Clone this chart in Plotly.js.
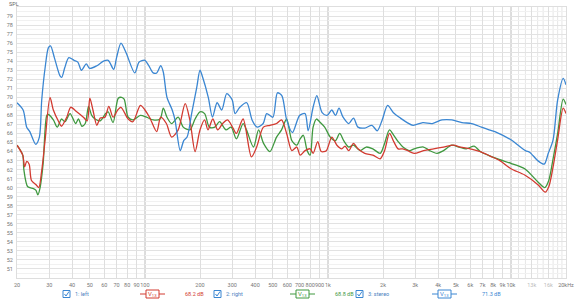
<!DOCTYPE html>
<html><head><meta charset="utf-8">
<script src="https://cdn.plot.ly/plotly-3.0.1.min.js"></script>
<style>html,body{margin:0;padding:0;background:#fff;}#chart{width:576px;height:300px;}</style>
</head><body><div id="chart"></div>
<script>
// ---- data ----
const freqLeft = [20,21.5,22,22.6,23.3,24,25.5,26.3,27.3,28.5,30.3,31.6,33.8,35,37.4,39.3,42.4,46.1,48.4,50,52,54.6,57,60.5,63.5,67,71,74,81,86,94.5,100,106,116,122,131,140,152,166,176,188,200,212,221,235,250,266,283,303,316,344,382,408,444,482,524,558,595,635,676,705,750,800,830,880,920,980,1050,1120,1190,1240,1300,1380,1460,1590,1760,1930,2040,2170,2290,2420,2570,2730,2960,3330,3780,4280,4850,5300,6000,6800,7700,8700,10000,11900,14100,15400,16100,17000,18000,19300,20000];
const splLeft = [64.7,63.6,62.3,62.9,62.6,60.8,60.3,60.0,61.9,65.3,70.0,68.6,67.3,66.8,67.8,68.9,68.4,67.8,67.4,69.9,68.6,66.9,67.7,67.8,69.0,67.8,68.6,68.9,67.6,67.3,69.1,68.6,67.8,66.2,67.8,67.1,65.6,66.4,69.3,67.5,64.0,66.4,67.5,66.4,67.6,66.4,67.1,67.5,66.6,66.0,67.6,63.4,64.5,66.7,66.9,67.1,67.5,66.0,64.1,64.5,63.6,64.1,64.3,63.8,65.1,64.0,64.1,65.6,64.7,64.3,64.6,64.1,64.9,64.3,63.8,63.6,63.2,64.1,66.0,65.1,64.3,64.3,64.1,63.8,64.1,64.3,64.5,64.7,64.5,64.3,64.0,63.5,63.0,62.1,61.4,60.3,59.5,60.1,62.3,65.3,68.8,68.2];

const freqRight = [20,21.5,21.8,22.9,24.6,25.4,26,26.8,27.8,29.1,29.7,31.6,33.2,35,36.6,39,41.8,43.3,45.3,47.2,49.2,51.2,53.4,57,61,63,67,71.5,74.5,77,81,86,94.5,102,111,121,126,132,140,152,162,176,188,200,212,225,241,256,277,296,316,344,359,392,418,445,482,524,558,595,635,676,705,734,770,800,830,866,900,960,1030,1100,1160,1220,1300,1380,1500,1620,1760,1930,2040,2170,2290,2420,2570,2800,2960,3330,3600,3950,4280,4750,5200,5700,6300,6800,7700,8700,10000,11900,14100,15300,16100,17000,18000,19300,20000];
const splRight = [64.7,63.6,62.0,60.1,59.9,59.7,59.2,60.1,62.7,68.0,68.1,67.5,66.7,67.6,67.3,68.2,67.1,67.6,66.8,67.1,69.0,68.0,67.6,67.4,68.2,68.4,67.2,69.9,70.0,69.8,67.8,67.5,68.0,67.8,67.5,67.6,68.8,67.8,67.1,67.8,66.7,66.4,67.6,68.4,68.2,66.7,66.7,67.3,66.4,66.7,65.4,67.1,66.4,64.5,66.4,64.9,64.0,65.6,66.4,67.6,65.2,64.7,65.4,65.8,64.1,63.6,66.7,67.6,67.3,66.7,65.6,65.2,66.0,65.2,64.5,64.7,64.1,64.5,64.3,63.8,64.9,66.4,65.8,65.1,64.5,64.1,64.3,64.5,64.1,63.8,64.1,64.7,64.5,64.3,64.6,64.0,63.5,63.1,62.7,62.1,60.6,60.0,60.8,63.2,66.0,69.8,69.2];

const freqStereo = [20,21.6,22.6,23.5,25.3,26.5,27.3,28.5,29.7,30.5,32,34.3,35.1,36.5,38.4,41,43,45,47.8,49.9,54.7,59.4,63,67.5,70,74,79,88,93,100,105,111,116,122,126,132,141,146,156,163,170,180,192,200,207,222,234,248,263,280,300,311,330,360,385,410,443,463,500,530,560,595,640,700,750,780,830,870,930,990,1050,1100,1150,1210,1300,1380,1460,1590,1740,1860,1980,2120,2280,2490,2710,2920,3300,3720,4200,4760,5400,6100,6900,7600,8400,10000,12000,12700,14000,15200,16000,17000,18000,19300,20000];
const splStereo = [69.4,68.6,66.7,66.2,64.8,65.6,69.7,73.3,75.5,75.7,74.4,72.4,72.2,73.3,74.4,74.1,73.9,73.0,73.7,73.2,73.5,74.0,74.1,73.1,74.4,76.0,74.9,72.7,73.9,74.1,73.5,72.7,72.7,73.5,72.8,70.0,68.6,67.5,64.1,65.2,65.6,68.2,71.1,73.0,72.2,70.0,67.8,69.4,68.6,70.4,69.7,68.2,68.9,69.4,67.5,66.7,67.1,68.2,67.8,70.5,70.2,67.5,66.1,68.0,68.2,66.3,68.9,70.2,68.3,68.0,68.6,68.0,68.8,67.8,67.1,67.7,66.7,66.6,66.9,66.3,67.5,69.1,68.3,67.7,67.2,66.9,67.2,67.1,67.5,67.5,67.2,67.1,66.7,66.4,66.1,65.3,64.1,63.9,63.0,62.6,63.8,65.3,69.7,72.1,71.4];

const xTickVals = [20,30,40,50,60,70,80,90,100,200,300,400,500,600,700,800,900,1000,2000,3000,4000,5000,6000,7000,8000,9000,10000,13000,16000,20000];
const xTickText = ['20','30','40','50','60','70','80','90','100','200','300','400','500','600','700','800','900','1k','2k','3k','4k','5k','6k','7k','8k','9k','10k','<span style="fill:#bbb">13k</span>','<span style="fill:#bbb">16k</span>','20kHz'];
const yTickVals = [51,52,53,54,55,56,57,58,59,60,61,62,63,64,65,66,67,68,69,70,71,72,73,74,75,76,77,78,79];
const darkGridFreqs = [100,1000,10000];
const extraGridFreqs = [11000,12000,14000,15000,17000,18000,19000];
const seriesNames = ['1: left','2: right','3: stereo'];
const seriesLevels = ['68.2 dB','68.8 dB','71.3 dB'];
const seriesColors = ['#d23a30','#3f983f','#3a86d2'];

// ---- geometry helpers ----
const L = 17, T = 7, W = 549, H = 271;
const fx = f => (Math.log10(f) - Math.log10(20)) / 3;
const px = x => (x - L) / W;
const py = y => (T + H - y) / H;

const shapes = [];
darkGridFreqs.forEach(f => shapes.push({type:'line', xref:'paper', yref:'paper', x0:fx(f), x1:fx(f), y0:0, y1:1, line:{color:'#a9a9a9', width:1}, layer:'below'}));
extraGridFreqs.forEach(f => shapes.push({type:'line', xref:'paper', yref:'paper', x0:fx(f), x1:fx(f), y0:0, y1:1, line:{color:'#e6e6e6', width:1}, layer:'below'}));

const annotations = [{xref:'paper', yref:'paper', x:px(7), y:py(3.5), text:'SPL', showarrow:false, xanchor:'left', yanchor:'middle', font:{size:5.5, color:'#666'}}];

const legendY = 294;
const checkX = [63, 214, 356];
const nameX = [73, 224, 366];
const iconX = [140, 290, 432];
const levelX = [183, 333, 480];
for (let i = 0; i < 3; i++) {
  const c = seriesColors[i];
  shapes.push({type:'rect', xref:'paper', yref:'paper', x0:px(checkX[i]), x1:px(checkX[i]+7), y0:py(legendY-3.5), y1:py(legendY+3.5), line:{color:'#3a86d2', width:1}, fillcolor:'#fff'});
  shapes.push({type:'path', xref:'paper', yref:'paper', path:`M ${px(checkX[i]+1.5)} ${py(legendY)} L ${px(checkX[i]+3)} ${py(legendY+2)} L ${px(checkX[i]+6)} ${py(legendY-2.5)}`, line:{color:'#3a86d2', width:1}});
  annotations.push({xref:'paper', yref:'paper', x:px(nameX[i]), y:py(legendY), text:seriesNames[i], showarrow:false, xanchor:'left', yanchor:'middle', font:{size:5.5, color:'#4a7fc0'}});
  shapes.push({type:'line', xref:'paper', yref:'paper', x0:px(iconX[i]), x1:px(iconX[i]+6), y0:py(legendY), y1:py(legendY), line:{color:c, width:1}});
  shapes.push({type:'rect', xref:'paper', yref:'paper', x0:px(iconX[i]+6), x1:px(iconX[i]+19), y0:py(legendY-4), y1:py(legendY+4), line:{color:c, width:1}, fillcolor:'#fff'});
  shapes.push({type:'line', xref:'paper', yref:'paper', x0:px(iconX[i]+19), x1:px(iconX[i]+25), y0:py(legendY), y1:py(legendY), line:{color:c, width:1}});
  annotations.push({xref:'paper', yref:'paper', x:px(iconX[i]+12.5), y:py(legendY), text:'V<sub>13</sub>', showarrow:false, xanchor:'center', yanchor:'middle', font:{size:6, color:c}});
  annotations.push({xref:'paper', yref:'paper', x:px(levelX[i]), y:py(legendY), text:seriesLevels[i], showarrow:false, xanchor:'left', yanchor:'middle', font:{size:5.5, color:c}});
}

const mk = (x, y, c) => ({x:x, y:y, type:'scatter', mode:'lines', line:{color:c, width:1.3, shape:'spline', smoothing:0.8}, hoverinfo:'skip'});
const traces = [
  mk(freqRight, splRight, seriesColors[1]),
  mk(freqLeft, splLeft, seriesColors[0]),
  mk(freqStereo, splStereo, seriesColors[2])
];

const layout = {
  width:576, height:300,
  margin:{l:L, r:576-L-W, t:T, b:300-T-H},
  paper_bgcolor:'#fff', plot_bgcolor:'#fff',
  showlegend:false,
  font:{family:'Roboto, "Noto Sans", sans-serif', size:5.5, color:'#777'},
  xaxis:{type:'log', range:[Math.log10(20), Math.log10(20000)], tickmode:'array', tickvals:xTickVals, ticktext:xTickText, tickangle:0,
         showgrid:true, gridcolor:'#dedede', gridwidth:1, zeroline:false, showline:true, linecolor:'#dedede', mirror:true, ticks:'', tickfont:{size:5.5, color:'#777'}, ticklabelstandoff:1},
  yaxis:{range:[50,80], tickmode:'array', tickvals:yTickVals, showgrid:true, gridcolor:'#e2e2e2', gridwidth:1, zeroline:false, showline:true, linecolor:'#dedede', mirror:true, ticks:'',
         minor:{dtick:0.5, showgrid:true, gridcolor:'#f1f1f1', ticks:''}, tickfont:{size:5.5, color:'#777'}, ticklabelstandoff:2},
  shapes:shapes,
  annotations:annotations
};
Plotly.newPlot('chart', traces, layout, {staticPlot:true, displayModeBar:false});
</script></body></html>
